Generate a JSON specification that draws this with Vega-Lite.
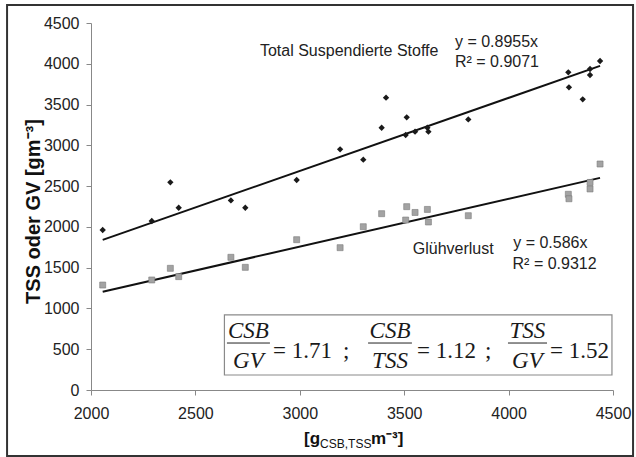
{
  "$schema": "https://vega.github.io/schema/vega-lite/v6.json",
  "width": 522,
  "height": 367,
  "autosize": {"type": "none"},
  "padding": {"left": 91, "top": 23, "right": 23, "bottom": 67},
  "background": "white",
  "config": {"view": {"stroke": null}, "font": "Liberation Sans"},
  "datasets": {
    "points": [
      {"series": "TSS", "x": 2056, "y": 1962}, {"series": "TSS", "x": 2291, "y": 2072}, {"series": "TSS", "x": 2380, "y": 2546},
      {"series": "TSS", "x": 2420, "y": 2235}, {"series": "TSS", "x": 2670, "y": 2325}, {"series": "TSS", "x": 2739, "y": 2235},
      {"series": "TSS", "x": 2985, "y": 2575}, {"series": "TSS", "x": 3193, "y": 2951}, {"series": "TSS", "x": 3304, "y": 2824},
      {"series": "TSS", "x": 3392, "y": 3216}, {"series": "TSS", "x": 3413, "y": 3584}, {"series": "TSS", "x": 3512, "y": 3343},
      {"series": "TSS", "x": 3507, "y": 3127}, {"series": "TSS", "x": 3552, "y": 3168}, {"series": "TSS", "x": 3611, "y": 3216},
      {"series": "TSS", "x": 3616, "y": 3168}, {"series": "TSS", "x": 3807, "y": 3318}, {"series": "TSS", "x": 4286, "y": 3895},
      {"series": "TSS", "x": 4289, "y": 3711}, {"series": "TSS", "x": 4355, "y": 3564}, {"series": "TSS", "x": 4390, "y": 3936},
      {"series": "TSS", "x": 4390, "y": 3862}, {"series": "TSS", "x": 4438, "y": 4034},
      {"series": "GV", "x": 2056, "y": 1287}, {"series": "GV", "x": 2291, "y": 1349}, {"series": "GV", "x": 2380, "y": 1492},
      {"series": "GV", "x": 2420, "y": 1390}, {"series": "GV", "x": 2670, "y": 1627}, {"series": "GV", "x": 2739, "y": 1504},
      {"series": "GV", "x": 2985, "y": 1843}, {"series": "GV", "x": 3193, "y": 1745}, {"series": "GV", "x": 3304, "y": 2002},
      {"series": "GV", "x": 3392, "y": 2162}, {"series": "GV", "x": 3512, "y": 2248}, {"series": "GV", "x": 3507, "y": 2084},
      {"series": "GV", "x": 3552, "y": 2177}, {"series": "GV", "x": 3611, "y": 2214}, {"series": "GV", "x": 3616, "y": 2060},
      {"series": "GV", "x": 3807, "y": 2137}, {"series": "GV", "x": 4286, "y": 2400}, {"series": "GV", "x": 4289, "y": 2345},
      {"series": "GV", "x": 4390, "y": 2545}, {"series": "GV", "x": 4390, "y": 2465}, {"series": "GV", "x": 4438, "y": 2771}
    ],
    "fits": [
      {"series": "TSS", "x": 2056, "y": 1841}, {"series": "TSS", "x": 4438, "y": 3974},
      {"series": "GV", "x": 2056, "y": 1205}, {"series": "GV", "x": 4438, "y": 2601}
    ],
    "notes": [
      {"text": "Total Suspendierte Stoffe", "x": 2809, "y": 4095},
      {"text": "y = 0.8955x", "x": 3743, "y": 4205},
      {"text": "R² = 0.9071", "x": 3743, "y": 3960},
      {"text": "Glühverlust", "x": 3541, "y": 1667},
      {"text": "y = 0.586x", "x": 4022, "y": 1741},
      {"text": "R² = 0.9312", "x": 4019, "y": 1483}
    ],
    "boxes": [
      {"kind": "frame", "x": 1598, "x2": 4596, "y": 4720, "y2": -809},
      {"kind": "box", "x": 2639, "x2": 4495, "y": 920, "y2": 184}
    ],
    "fracs": [
      {"text": "CSB", "x": 2754, "y": 638}, {"text": "GV", "x": 2754, "y": 270},
      {"text": "CSB", "x": 3432, "y": 638}, {"text": "TSS", "x": 3432, "y": 270},
      {"text": "TSS", "x": 4090, "y": 638}, {"text": "GV", "x": 4090, "y": 270}
    ],
    "bars": [
      {"x": 2651, "x2": 2857, "y": 576},
      {"x": 3327, "x2": 3537, "y": 576},
      {"x": 3997, "x2": 4184, "y": 576}
    ],
    "eqs": [
      {"text": "= 1.71", "x": 2872, "y": 390},
      {"text": ";", "x": 3207, "y": 390},
      {"text": "= 1.12", "x": 3561, "y": 390},
      {"text": ";", "x": 3887, "y": 390},
      {"text": "= 1.52", "x": 4198, "y": 390}
    ],
    "xtitle": [
      {"part": "main", "text": "[g", "x": 3020, "y": -662},
      {"part": "sub", "text": "CSB,TSS", "x": 3097, "y": -711},
      {"part": "main", "text": "m⁻³]", "x": 3341, "y": -662}
    ]
  },
  "layer": [
    {
      "data": {"name": "boxes"},
      "transform": [{"filter": "datum.kind === 'frame'"}],
      "mark": {"type": "rect", "fill": null, "stroke": "#333333", "strokeWidth": 2},
      "encoding": {
        "x": {"field": "x", "type": "quantitative", "scale": {"domain": [2000, 4500], "nice": false, "zero": false},
          "axis": {"values": [2000, 2500, 3000, 3500, 4000, 4500], "format": "d", "title": null, "labelFontSize": 16, "labelColor": "#222222", "domainColor": "#888888", "tickColor": "#888888", "tickSize": 5, "labelPadding": 10, "grid": false, "labelFlush": false}},
        "x2": {"field": "x2"},
        "y": {"field": "y", "type": "quantitative", "scale": {"domain": [0, 4500], "nice": false},
          "axis": {"values": [0, 500, 1000, 1500, 2000, 2500, 3000, 3500, 4000, 4500], "format": "d", "title": "TSS oder GV [gm⁻³]", "titleFontSize": 20, "titleFontWeight": "bold", "titleColor": "#111111", "titleX": -58, "titleY": 188, "titleAngle": 270, "titleAlign": "center", "titleBaseline": "middle", "labelFontSize": 16, "labelColor": "#222222", "domainColor": "#888888", "tickColor": "#888888", "tickSize": 5, "labelPadding": 7, "grid": false, "labelFlush": false}},
        "y2": {"field": "y2"}
      }
    },
    {
      "data": {"name": "fits"},
      "mark": {"type": "line", "color": "#111111", "strokeWidth": 2},
      "encoding": {
        "x": {"field": "x", "type": "quantitative"},
        "y": {"field": "y", "type": "quantitative"},
        "detail": {"field": "series"}
      }
    },
    {
      "data": {"name": "points"},
      "transform": [{"filter": "datum.series === 'GV'"}],
      "mark": {"type": "point", "shape": "square", "filled": true, "fill": "#a3a3a3", "stroke": "#7a7a7a", "strokeWidth": 0.6, "size": 36, "opacity": 1},
      "encoding": {
        "x": {"field": "x", "type": "quantitative"},
        "y": {"field": "y", "type": "quantitative"}
      }
    },
    {
      "data": {"name": "points"},
      "transform": [{"filter": "datum.series === 'TSS'"}],
      "mark": {"type": "point", "shape": "diamond", "filled": true, "fill": "#1a1a1a", "size": 40, "opacity": 1},
      "encoding": {
        "x": {"field": "x", "type": "quantitative"},
        "y": {"field": "y", "type": "quantitative"}
      }
    },
    {
      "data": {"name": "notes"},
      "mark": {"type": "text", "align": "left", "baseline": "alphabetic", "fontSize": 16, "color": "#222222", "font": "Liberation Sans"},
      "encoding": {
        "x": {"field": "x", "type": "quantitative"},
        "y": {"field": "y", "type": "quantitative"},
        "text": {"field": "text"}
      }
    },
    {
      "data": {"name": "boxes"},
      "transform": [{"filter": "datum.kind === 'box'"}],
      "mark": {"type": "rect", "fill": "white", "stroke": "#8a8a8a", "strokeWidth": 1.2},
      "encoding": {
        "x": {"field": "x", "type": "quantitative"},
        "x2": {"field": "x2"},
        "y": {"field": "y", "type": "quantitative"},
        "y2": {"field": "y2"}
      }
    },
    {
      "data": {"name": "bars"},
      "mark": {"type": "rule", "color": "#222222", "strokeWidth": 1},
      "encoding": {
        "x": {"field": "x", "type": "quantitative"},
        "x2": {"field": "x2"},
        "y": {"field": "y", "type": "quantitative"}
      }
    },
    {
      "data": {"name": "fracs"},
      "mark": {"type": "text", "align": "center", "baseline": "alphabetic", "fontSize": 23, "fontStyle": "italic", "font": "Liberation Serif", "color": "#1a1a1a"},
      "encoding": {
        "x": {"field": "x", "type": "quantitative"},
        "y": {"field": "y", "type": "quantitative"},
        "text": {"field": "text"}
      }
    },
    {
      "data": {"name": "eqs"},
      "mark": {"type": "text", "align": "left", "baseline": "alphabetic", "fontSize": 23, "font": "Liberation Serif", "color": "#1a1a1a"},
      "encoding": {
        "x": {"field": "x", "type": "quantitative"},
        "y": {"field": "y", "type": "quantitative"},
        "text": {"field": "text"}
      }
    },
    {
      "data": {"name": "xtitle"},
      "transform": [{"filter": "datum.part === 'main'"}],
      "mark": {"type": "text", "align": "left", "baseline": "alphabetic", "fontSize": 17, "fontWeight": "bold", "font": "Liberation Sans", "color": "#111111"},
      "encoding": {
        "x": {"field": "x", "type": "quantitative"},
        "y": {"field": "y", "type": "quantitative"},
        "text": {"field": "text"}
      }
    },
    {
      "data": {"name": "xtitle"},
      "transform": [{"filter": "datum.part === 'sub'"}],
      "mark": {"type": "text", "align": "left", "baseline": "alphabetic", "fontSize": 12, "font": "Liberation Sans", "color": "#111111"},
      "encoding": {
        "x": {"field": "x", "type": "quantitative"},
        "y": {"field": "y", "type": "quantitative"},
        "text": {"field": "text"}
      }
    }
  ]
}
